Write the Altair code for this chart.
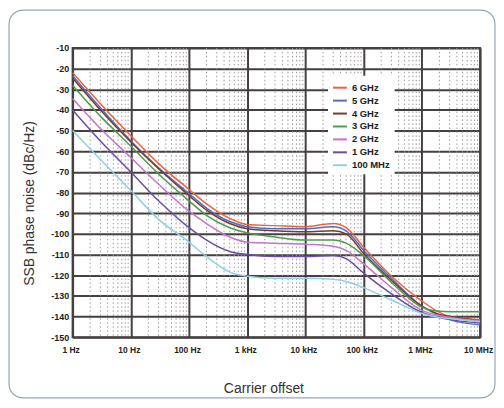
import altair as alt
import pandas as pd

# ---------------- data ----------------
freqs = [1, 3, 10, 30, 100, 200, 500, 1e3, 3e3, 1e4, 3e4, 5e4, 1e5, 3e5, 1e6, 2e6, 3e6, 1e7]

series_names = ["6 GHz", "5 GHz", "4 GHz", "3 GHz", "2 GHz", "1 GHz", "100 MHz"]
series_colors = ["#e8643e", "#4f6fc6", "#7b3b2b", "#4e9a4e", "#c474cc", "#6a4ca6", "#8fd0e2"]

noise_6ghz = [-22, -37, -52.5, -66, -78.5, -85.5, -92.5, -95.5, -96, -96.5, -95, -97, -106.5, -120.5, -132.5, -138, -140, -141.5]
noise_5ghz = [-23.5, -39, -55, -68, -80.5, -87.5, -94, -96.5, -97.5, -97.5, -96.5, -98.5, -108, -121.5, -135, -139.5, -141.5, -144]
noise_4ghz = [-24.5, -40, -55.5, -68.5, -81.5, -88.5, -95, -97.5, -98.5, -99, -98.5, -100, -109.5, -122.5, -135, -139, -140, -142]
noise_3ghz = [-28, -43, -57.5, -71, -84, -91, -97, -99.5, -101.5, -103, -103, -104.5, -110.5, -123.5, -135.5, -137.5, -137.7, -137.7]
noise_2ghz = [-34.5, -49, -63, -76, -89, -95, -101.5, -104, -104.5, -105, -106, -108, -114.5, -126, -137, -139.5, -140.5, -142]
noise_1ghz = [-40, -55, -70, -84, -97, -103, -108.5, -110, -111, -111, -110.5, -112, -119, -129, -138, -140.5, -141.5, -143]
noise_100mhz = [-50, -64, -79, -93, -104, -111, -118.5, -120.5, -121.5, -121.5, -122, -123, -126, -132, -138.5, -140.5, -141, -142.5]

y_ticks = [-10, -20, -30, -40, -50, -60, -70, -80, -90, -100, -110, -120, -130, -140, -150]
x_ticks = [1, 10, 100, 1e3, 1e4, 1e5, 1e6, 1e7]
x_tick_labels = ["1 Hz", "10 Hz", "100 Hz", "1 kHz", "10 kHz", "100 kHz", "1 MHz", "10 MHz"]
minor_ticks = [k * 10 ** d for d in range(7) for k in range(2, 10)]

# ---------------- tables ----------------
all_series = [noise_6ghz, noise_5ghz, noise_4ghz, noise_3ghz, noise_2ghz, noise_1ghz, noise_100mhz]
rows = []
for name, vals in zip(series_names, all_series):
    for f, v in zip(freqs, vals):
        rows.append({"freq": f, "noise": v, "series": name})
df = pd.DataFrame(rows)
minor_df = pd.DataFrame({"freq": minor_ticks})

W, H = 410, 291
PAD_L, PAD_T, PAD_R, PAD_B = 65, 39, 16, 62

TICK_FONT = "Liberation Sans, Arial, sans-serif"
TITLE_FONT = "Liberation Sans, Arial, sans-serif"
GRID = "#463f3f"

label_array = "[" + ",".join("'" + s + "'" for s in x_tick_labels) + "]"

x_scale = alt.Scale(type="log", domain=[1, 1e7], nice=False)
y_scale = alt.Scale(domain=[-150, -10], nice=False, zero=False)

x_axis = alt.Axis(
    values=x_ticks,
    labelExpr=label_array + "[round(log(datum.value)/LN10)]",
    title="Carrier offset",
    grid=True, gridColor=GRID, gridWidth=2,
    ticks=False, domain=False,
    labelFont=TICK_FONT, labelFontWeight="bold", labelFontSize=8.5, labelColor="#222",
    labelPadding=8, labelFlush=False, labelOffset=-2,
    titleFont=TITLE_FONT, titleFontWeight="normal", titleFontSize=14, titleColor="#333",
    titleX=192, titleY=52, titleBaseline="middle",
)
y_axis = alt.Axis(
    values=y_ticks,
    labelExpr="toString(datum.value)",
    title="SSB phase noise (dBc/Hz)",
    grid=True, gridColor=GRID, gridWidth=2,
    ticks=False, domain=False,
    labelFont=TICK_FONT, labelFontWeight="bold", labelFontSize=9, labelColor="#222",
    labelPadding=4, labelFlush=False,
    titleFont=TITLE_FONT, titleFontWeight="normal", titleFontSize=14, titleColor="#333",
    titleX=-43, titleY=156, titleAngle=-90, titleBaseline="middle", titleAlign="center",
)

border = alt.Chart(pd.DataFrame({"a": [0]})).mark_rect(
    fill="white", fillOpacity=0, stroke="#97a6b3", strokeWidth=1.2, cornerRadius=14
).encode(
    x=alt.value(-PAD_L + 1), x2=alt.value(W + PAD_R - 1),
    y=alt.value(-PAD_T + 1), y2=alt.value(H + PAD_B - 1),
)

minor = alt.Chart(minor_df).mark_rule(
    color="#9a9a9a", strokeWidth=1, strokeDash=[1.5, 2.5]
).encode(
    x=alt.X("freq:Q", scale=x_scale, axis=x_axis)
)

lines = alt.Chart(df).mark_line(strokeWidth=1.5, interpolate="monotone").encode(
    x=alt.X("freq:Q", scale=x_scale, axis=x_axis),
    y=alt.Y("noise:Q", scale=y_scale, axis=y_axis),
    color=alt.Color(
        "series:N",
        sort=series_names,
        scale=alt.Scale(domain=series_names, range=series_colors),
        legend=alt.Legend(
            title=None, orient="none", legendX=257, legendY=28,
            symbolType="stroke", symbolSize=196, symbolStrokeWidth=2,
            labelFont=TICK_FONT, labelFontWeight="bold", labelFontSize=9.5, labelColor="#222",
            fillColor="white", padding=4, rowPadding=0, labelOffset=4,
        ),
    ),
    detail="series:N",
)

chart = alt.layer(border, minor, lines).properties(
    width=W, height=H,
    autosize=alt.AutoSizeParams(type="none"),
    padding={"left": PAD_L, "top": PAD_T, "right": PAD_R, "bottom": PAD_B},
    background="white",
).configure_view(stroke=GRID, strokeWidth=2)

chart.save("out.html", embed_options={"renderer": "svg", "actions": False})
